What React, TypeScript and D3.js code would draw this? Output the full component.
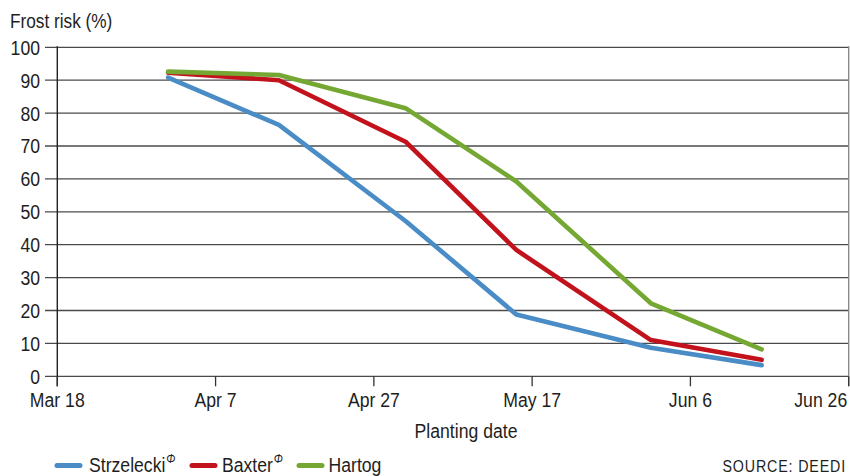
import React from "react";
import * as d3 from "d3";

// Frost risk by planting date for three wheat varieties
const plantingDates = ["2011-04-01", "2011-04-15", "2011-05-01", "2011-05-15", "2011-06-01", "2011-06-15"];
const strzelecki = [90.8, 76.4, 47.2, 18.8, 8.7, 3.4];
const baxter = [92.3, 90.0, 71.3, 38.4, 11.0, 5.0];
const hartog = [92.6, 91.6, 81.5, 59.2, 22.2, 8.2];

const xTickDates = ["2011-03-18", "2011-04-07", "2011-04-27", "2011-05-17", "2011-06-06", "2011-06-26"];
const yTicks = [0, 10, 20, 30, 40, 50, 60, 70, 80, 90, 100];

const seriesNames = ["Strzelecki", "Baxter", "Hartog"];
const seriesPbr = [true, true, false];
const seriesColors = ["#4a8cc6", "#c2131d", "#75a833"];

const W = 850;
const H = 476;
const FONT = "'Liberation Sans', Arial, sans-serif";
const TEXT = "#1e1e1e";
const SQUEEZE = 0.84;

type CTextProps = {
  x: number;
  y: number;
  size?: number;
  anchor?: "start" | "middle" | "end";
  spacing?: number;
  children?: React.ReactNode;
};

// Condensed text: Liberation Sans squeezed horizontally around its anchor point
function CText({ x, y, size = 21, anchor = "start", spacing, children }: CTextProps) {
  return (
    <text
      transform={`translate(${x},${y}) scale(${SQUEEZE},1)`}
      fontSize={size}
      textAnchor={anchor}
      letterSpacing={spacing}
      fill={TEXT}
    >
      {children}
    </text>
  );
}

export default function App() {
  const parse = d3.timeParse("%Y-%m-%d");
  const fmt = d3.timeFormat("%b %-d");
  const tickDates = xTickDates.map((s) => parse(s) as Date);
  const dates = plantingDates.map((s) => parse(s) as Date);

  const x = d3
    .scaleTime()
    .domain([tickDates[0], tickDates[tickDates.length - 1]])
    .range([57.3, 848.7]);
  const y = d3.scaleLinear().domain([0, 100]).range([376.3, 47.3]);

  const allSeries = [strzelecki, baxter, hartog];
  const line = d3
    .line<number>()
    .x((_, i) => x(dates[i]))
    .y((v) => y(v));

  const x0 = x.range()[0];
  const x1 = x.range()[1];
  const lastTick = tickDates.length - 1;

  const legendPos = [
    { lx: 55, tx: 89 },
    { lx: 190, tx: 222 },
    { lx: 297, tx: 328.5 },
  ];

  return (
    <svg
      width={W}
      height={H}
      style={{ position: "absolute", left: 0, top: 0, background: "#fff" }}
      fontFamily={FONT}
    >
      <CText x={10} y={28} size={20.5}>
        Frost risk (%)
      </CText>

      {/* horizontal grid + y ticks */}
      {yTicks.map((t) => (
        <g key={t}>
          <line x1={45} x2={x1} y1={y(t)} y2={y(t)} stroke="#4a4a4a" strokeWidth={1.3} />
          <CText x={40} y={y(t) + 7.4} anchor="end">
            {t}
          </CText>
        </g>
      ))}

      {/* y axis line */}
      <line x1={x0} x2={x0} y1={y(100) - 1} y2={y(0) + 10} stroke="#222" strokeWidth={1.4} />
      {/* right frame */}
      <line x1={x1} x2={x1} y1={y(100) - 1} y2={y(0) + 10} stroke="#8a8a8a" strokeWidth={1.4} />

      {/* x ticks */}
      {tickDates.map((d, i) => (
        <g key={i}>
          <line x1={x(d)} x2={x(d)} y1={y(0)} y2={y(0) + 10} stroke="#333" strokeWidth={1.3} />
          <CText
            x={i === lastTick ? x(d) - 1.5 : x(d)}
            y={406.7}
            anchor={i === lastTick ? "end" : "middle"}
          >
            {fmt(d)}
          </CText>
        </g>
      ))}

      <CText x={466} y={438.3} anchor="middle">
        Planting date
      </CText>

      {/* series lines */}
      {allSeries.map((vals, i) => (
        <path
          key={seriesNames[i]}
          d={line(vals) ?? ""}
          fill="none"
          stroke={seriesColors[i]}
          strokeWidth={4.6}
          strokeLinejoin="round"
          strokeLinecap="round"
        />
      ))}

      {/* legend */}
      {seriesNames.map((name, i) => (
        <g key={name}>
          <line
            x1={legendPos[i].lx + 2}
            x2={legendPos[i].lx + 25}
            y1={465.5}
            y2={465.5}
            stroke={seriesColors[i]}
            strokeWidth={5}
            strokeLinecap="round"
          />
          <CText x={legendPos[i].tx} y={471.5}>
            {name}
            {seriesPbr[i] ? (
              <tspan fontSize={13} dx={1} dy={-9} fontStyle="italic">
                Φ
              </tspan>
            ) : null}
          </CText>
        </g>
      ))}

      <CText x={722.5} y={471.5} size={17} spacing={1}>
        SOURCE: DEEDI
      </CText>
    </svg>
  );
}
